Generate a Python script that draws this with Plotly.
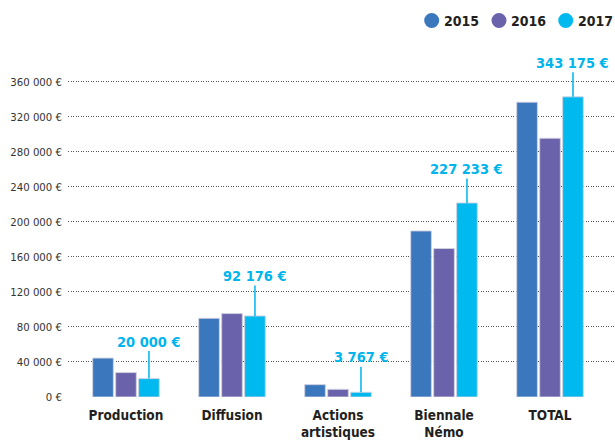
import plotly.graph_objects as go

categories = ["Production", "Diffusion", "Actions<br>artistiques", "Biennale<br>Némo", "TOTAL"]
years = ["2015", "2016", "2017"]
values_2015 = [44500, 89900, 14100, 189700, 336800]
values_2016 = [27900, 95300, 8800, 169600, 295600]
values_2017 = [21000, 92600, 5400, 221700, 342900]
labels_2017 = ["20 000 €", "92 176 €", "3 767 €", "227 233 €", "343 175 €"]
tick_values = [0, 40000, 80000, 120000, 160000, 200000, 240000, 280000, 320000, 360000]
tick_labels = ["0 €", "40 000 €", "80 000 €", "120 000 €", "160 000 €", "200 000 €",
               "240 000 €", "280 000 €", "320 000 €", "360 000 €"]

colors = ["#3a77bd", "#6a63ab", "#00b9ef"]
label_color = "#00b4ec"
dark = "#231f20"
FONT = "DejaVu Sans Condensed, DejaVu Sans, sans-serif"

series = [values_2015, values_2016, values_2017]
x_idx = list(range(len(categories)))

fig = go.Figure()
for name, vals, col in zip(years, series, colors):
    fig.add_trace(go.Bar(
        x=x_idx, y=vals, name=name,
        marker=dict(color=col, line=dict(color="rgba(210,210,225,0.9)", width=1)),
        showlegend=False, hoverinfo="skip"))

bargap = 0.35
group_w = 1 - bargap
off_2017 = group_w / 3
arrow_len = [-37, -40, -35, -34, -34]
for i, (v, t) in enumerate(zip(values_2017, labels_2017)):
    fig.add_annotation(x=i + off_2017, y=v, xref="x", yref="y", text=t,
                       showarrow=True, arrowhead=0, arrowwidth=1.5, arrowcolor=label_color,
                       ax=0, ay=arrow_len[i], standoff=0,
                       font=dict(family=FONT, size=14.5, color=label_color, weight="bold"))

# custom legend (circles + text), positioned in paper coordinates
W, L = 547, 68
H, B = 337, 49
def px(xp):
    return (xp - L) / W
def py(yp):
    return (446 - B - yp) / H
legend_cx = [431.7, 499, 565.7]
for name, col, cx in zip(years, colors, legend_cx):
    fig.add_shape(type="circle", xref="paper", yref="paper",
                  xsizemode="pixel", ysizemode="pixel",
                  xanchor=px(cx), yanchor=py(20.5),
                  x0=-7.5, x1=7.5, y0=-7.5, y1=7.5,
                  fillcolor=col, line=dict(width=0))
    fig.add_annotation(xref="paper", yref="paper", x=px(cx + 10), y=py(20.5),
                       xanchor="left", yanchor="middle", showarrow=False, text=name,
                       font=dict(family=FONT, size=14, color=dark, weight="bold"))

fig.update_layout(
    width=615, height=446,
    margin=dict(l=L, r=0, t=446 - B - H, b=B, autoexpand=False),
    paper_bgcolor="white", plot_bgcolor="white",
    barmode="group", bargap=bargap, bargroupgap=0.1,
    font=dict(family=FONT, color=dark),
    xaxis=dict(tickmode="array", tickvals=x_idx, ticktext=categories, automargin=False,
               range=[-0.547, 4.613], showgrid=False, zeroline=False, showline=False,
               ticks="", ticklabelstandoff=8,
               tickfont=dict(family=FONT, size=13.5, color=dark, weight="bold")),
    yaxis=dict(range=[0, 385000], tickmode="array", tickvals=tick_values, ticktext=tick_labels,
               automargin=False,
               showgrid=True, gridcolor="#555555", griddash="1px,1.5px", gridwidth=1,
               zeroline=False, showline=False, ticks="", ticklabelstandoff=5,
               tickfont=dict(family=FONT, size=11.3, color="#333333")),
)

fig.write_html("out.html", config={"displayModeBar": False},
               post_script="document.body.style.margin='0';")
